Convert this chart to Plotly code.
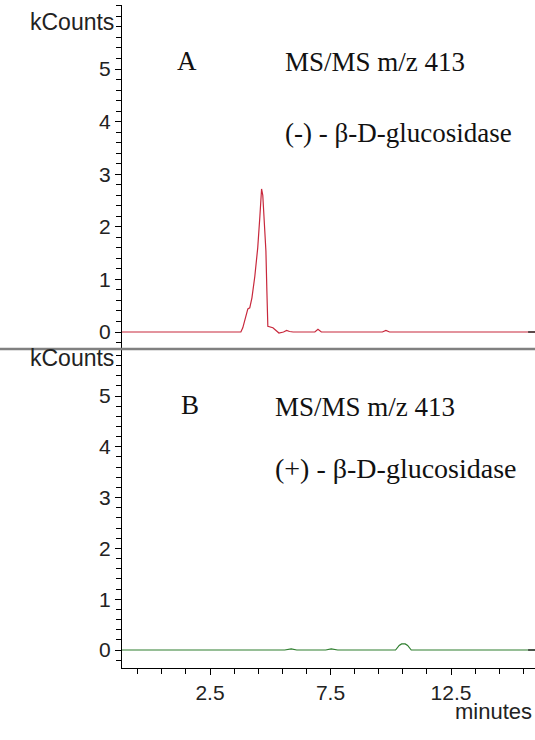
import plotly.graph_objects as go

# ---------------- data ----------------
# Panel A: (-) beta-D-glucosidase, MS/MS m/z 413 (minutes, kCounts)
time_a = [-1.19, 3.78, 3.86, 4.07, 4.15, 4.24, 4.36, 4.48, 4.57, 4.64, 4.69, 4.73, 4.82, 4.86,
          4.90, 5.11, 5.23, 5.36, 5.55, 5.68, 5.8, 5.95, 6.85, 6.98, 7.12, 9.65, 9.8, 9.95,
          12.0, 15.7, 15.99]
counts_a = [0.0, 0.0, 0.08, 0.44, 0.46, 0.65, 1.06, 1.6, 2.2, 2.72, 2.6, 2.3, 1.54, 0.78,
            0.11, 0.08, 0.04, -0.02, 0.0, 0.03, 0.01, 0.0, 0.0, 0.05, 0.0, 0.0, 0.03, 0.0,
            0.0, 0.0, 0.0]

# Panel B: (+) beta-D-glucosidase
time_b = [-1.19, 5.6, 5.87, 6.1, 7.3, 7.53, 7.8, 10.2, 10.35, 10.45, 10.6, 10.7, 10.85, 15.7, 15.99]
counts_b = [0.0, 0.0, 0.02, 0.0, 0.0, 0.02, 0.0, 0.0, 0.09, 0.12, 0.12, 0.09, 0.0, 0.0, 0.0]

x_tickvals = [2.5, 7.5, 12.5]
x_ticktext = ["2.5", "7.5", "12.5"]
y_tickvals = [0, 1, 2, 3, 4, 5]
y_ticktext = ["0", "1", "2", "3", "4", "5"]

W, H = 535, 740


def py(p):
    return 1 - p / H


def px(p):
    return p / W


fig = go.Figure()
fig.add_trace(go.Scatter(x=time_a, y=counts_a, mode="lines",
                         line=dict(color="#c8283c", width=1.2),
                         xaxis="x", yaxis="y", showlegend=False))
fig.add_trace(go.Scatter(x=time_b, y=counts_b, mode="lines",
                         line=dict(color="#2f7f2f", width=1.2),
                         xaxis="x2", yaxis="y2", showlegend=False))
# dark end markers
fig.add_trace(go.Scatter(x=[time_a[-2], time_a[-1]], y=[counts_a[-2], counts_a[-1]], mode="lines",
                         line=dict(color="#303030", width=1.5), xaxis="x", yaxis="y", showlegend=False))
fig.add_trace(go.Scatter(x=[time_b[-2], time_b[-1]], y=[counts_b[-2], counts_b[-1]], mode="lines",
                         line=dict(color="#303030", width=1.5), xaxis="x2", yaxis="y2", showlegend=False))

# x axis: 2.5 at 210px, 7.5 at 331px, 12.5 at 451px  -> 24.1 px/min, axis from 121px to 535px
x_dom = [px(121), 1.0]
x_range = [2.5 - (210 - 121) / 24.1, 12.5 + (535 - 451) / 24.1]

tickfont = dict(family="Liberation Sans, Arial", size=21, color="#222")

yax_common = dict(
    showline=True, linecolor="black", linewidth=1,
    ticks="outside", ticklen=6, tickcolor="black", tickwidth=1,
    tickvals=y_tickvals, ticktext=y_ticktext, tickfont=tickfont,
    showgrid=False, zeroline=False,
    minor=dict(dtick=0.2, tick0=0, ticks="outside", ticklen=5, tickcolor="black", showgrid=False),
    anchor="free", position=px(121),
)

# Panel A: zero at 332px, 52.6 px/unit, domain 5..349
a_top, a_bot, a_zero, a_scale = 5, 349, 332, 52.6
# Panel B: zero at 650px, 50.8 px/unit, domain 349..668
b_top, b_bot, b_zero, b_scale = 349, 668, 650, 50.8

fig.update_layout(
    width=W, height=H,
    margin=dict(l=0, r=0, t=0, b=0),
    paper_bgcolor="white", plot_bgcolor="white",
    xaxis=dict(domain=x_dom, range=x_range, visible=False, anchor="y"),
    yaxis=dict(domain=[py(a_bot), py(a_top)],
               range=[(a_zero - a_bot) / a_scale, (a_zero - a_top) / a_scale], **yax_common),
    xaxis2=dict(domain=x_dom, range=x_range, anchor="y2",
                showline=True, linecolor="black", linewidth=1,
                ticks="outside", ticklen=6, tickcolor="black",
                tickvals=x_tickvals, ticktext=x_ticktext, tickfont=tickfont,
                showgrid=False, zeroline=False,
                minor=dict(dtick=1, tick0=0.5, ticks="outside", ticklen=5, tickcolor="black", showgrid=False)),
    yaxis2=dict(domain=[py(b_bot), py(b_top)],
                range=[(b_zero - b_bot) / b_scale, (b_zero - b_top) / b_scale], **yax_common),
    showlegend=False,
)

serif = dict(family="Liberation Serif, Times New Roman", size=27, color="#111")
serif_b = dict(family="Liberation Serif, Times New Roman", size=28, color="#111")
labfont = dict(family="Liberation Sans, Arial", size=23, color="#222")
minfont = dict(family="Liberation Sans, Arial", size=22, color="#222")

annots = [
    dict(text="kCounts", x=px(116), y=py(22), xanchor="right", yanchor="middle", font=labfont),
    dict(text="kCounts", x=px(116), y=py(358), xanchor="right", yanchor="middle", font=labfont),
    dict(text="A", x=px(187), y=py(61), xanchor="center", yanchor="middle", font=serif),
    dict(text="MS/MS m/z 413", x=px(283), y=py(62), xanchor="left", yanchor="middle", font=serif),
    dict(text="(-) - β-D-glucosidase", x=px(283), y=py(133), xanchor="left", yanchor="middle", font=serif),
    dict(text="B", x=px(190), y=py(405), xanchor="center", yanchor="middle", font=serif),
    dict(text="MS/MS m/z 413", x=px(273), y=py(407), xanchor="left", yanchor="middle", font=serif),
    dict(text="(+) - β-D-glucosidase", x=px(273), y=py(468), xanchor="left", yanchor="middle", font=serif_b),
    dict(text="minutes", x=px(493), y=py(711), xanchor="center", yanchor="middle", font=minfont),
]
for a in annots:
    a.update(xref="paper", yref="paper", showarrow=False)
fig.update_layout(annotations=annots)

fig.add_shape(type="line", xref="paper", yref="paper", x0=0, x1=1, y0=py(349), y1=py(349),
              line=dict(color="#808080", width=2.5), layer="above")

fig.write_html("out.html")
